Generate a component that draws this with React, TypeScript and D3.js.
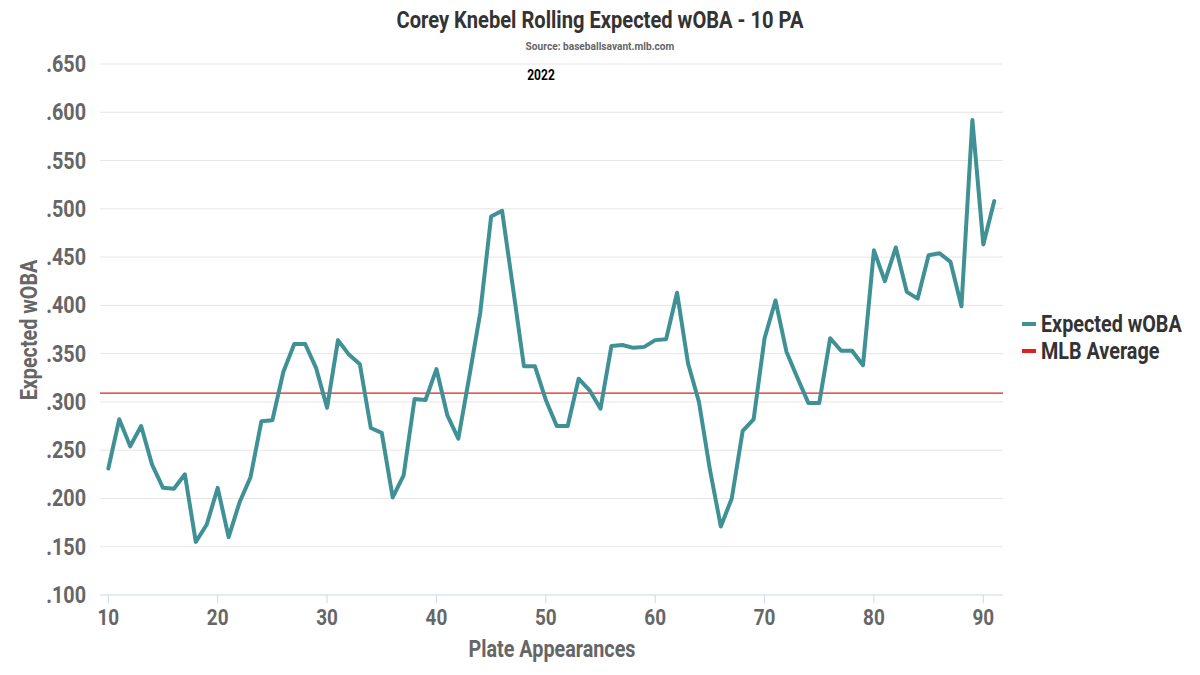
import React, { useEffect, useRef } from 'react';
import * as d3 from 'd3';

// rolling xwOBA over 10 PA, plate appearances 10..91
const plateAppearances = d3.range(10, 92);
const xwoba = [
  0.231, 0.282, 0.254, 0.275, 0.235, 0.211, 0.210, 0.225, 0.155, 0.173,
  0.211, 0.160, 0.196, 0.222, 0.280, 0.281, 0.331, 0.360, 0.360, 0.335,
  0.294, 0.364, 0.349, 0.339, 0.273, 0.268, 0.201, 0.224, 0.303, 0.302,
  0.334, 0.286, 0.262, 0.326, 0.392, 0.492, 0.498, 0.418, 0.337, 0.337,
  0.302, 0.275, 0.275, 0.324, 0.312, 0.293, 0.358, 0.359, 0.356, 0.357,
  0.364, 0.365, 0.413, 0.340, 0.300, 0.230, 0.171, 0.200, 0.270, 0.282,
  0.366, 0.405, 0.352, 0.325, 0.299, 0.299, 0.366, 0.353, 0.353, 0.338,
  0.457, 0.425, 0.460, 0.414, 0.407, 0.452, 0.454, 0.445, 0.399, 0.592,
  0.463, 0.508,
];
const mlbAverage = 0.309;
const yTicks = [0.1, 0.15, 0.2, 0.25, 0.3, 0.35, 0.4, 0.45, 0.5, 0.55, 0.6, 0.65];
const xTicks = [10, 20, 30, 40, 50, 60, 70, 80, 90];
const legendItems = [
  { label: 'Expected wOBA', color: '#3f9196' },
  { label: 'MLB Average', color: '#e0201c' },
];

const W = 1200;
const H = 675;
const FONT = 'Roboto, "Liberation Sans", sans-serif';
const SQ = 0.86; // squeeze to mimic a condensed face

const App: React.FC = () => {
  const svgRef = useRef<SVGSVGElement>(null);

  useEffect(() => {
    const svg = d3.select(svgRef.current);
    svg.selectAll('*').remove();

    const left = 100, right = 1003, top = 64, bottom = 595;

    const x = d3.scaleLinear().domain([9.24, 91.8]).range([left, right]);
    const y = d3.scaleLinear().domain([0.1, 0.65]).range([bottom, top]);

    const txt = (
      tx: number, ty: number, s: string, size: number, color: string,
      anchor = 'middle', rotate = 0
    ) =>
      svg.append('text')
        .attr('transform', `translate(${tx},${ty}) rotate(${rotate}) scale(${SQ},1)`)
        .attr('text-anchor', anchor)
        .attr('font-family', FONT)
        .attr('font-weight', 'bold')
        .attr('font-size', size)
        .attr('fill', color)
        .text(s);

    // grid
    svg.append('g')
      .selectAll('line')
      .data(yTicks.slice(1))
      .enter()
      .append('line')
      .attr('x1', left).attr('x2', right)
      .attr('y1', d => y(d)).attr('y2', d => y(d))
      .attr('stroke', '#e6e6e6')
      .attr('stroke-width', 1);

    // x axis line + ticks
    svg.append('line')
      .attr('x1', left).attr('x2', right)
      .attr('y1', bottom).attr('y2', bottom)
      .attr('stroke', '#ccd6eb');
    svg.append('g')
      .selectAll('line')
      .data(xTicks)
      .enter()
      .append('line')
      .attr('x1', d => x(d)).attr('x2', d => x(d))
      .attr('y1', bottom).attr('y2', bottom + 8)
      .attr('stroke', '#ccd6eb');

    yTicks.forEach(t => txt(86, y(t) + 8, d3.format('.3f')(t).replace(/^0/, ''), 23, '#666666', 'end'));
    xTicks.forEach(t => txt(x(t), 625, String(t), 22, '#666666'));

    // mlb average
    svg.append('line')
      .attr('x1', left).attr('x2', right)
      .attr('y1', y(mlbAverage)).attr('y2', y(mlbAverage))
      .attr('stroke', legendItems[1].color)
      .attr('stroke-width', 1.2);

    const line = d3.line<number>()
      .x((_, i) => x(plateAppearances[i]))
      .y(d => y(d));

    svg.append('path')
      .datum(xwoba)
      .attr('d', line)
      .attr('fill', 'none')
      .attr('stroke', legendItems[0].color)
      .attr('stroke-width', 4)
      .attr('stroke-linejoin', 'round')
      .attr('stroke-linecap', 'round');

    // titles
    txt(600, 28, 'Corey Knebel Rolling Expected wOBA - 10 PA', 23.4, '#333333');
    txt(600, 50, 'Source: baseballsavant.mlb.com', 11.8, '#666666');
    txt(541, 80, '2022', 14, '#000000');
    txt(552, 657, 'Plate Appearances', 23, '#666666');
    txt(37, 330, 'Expected wOBA', 23, '#666666', 'middle', -90);

    // legend
    legendItems.forEach((d, i) => {
      const ly = 324 + i * 27;
      svg.append('line')
        .attr('x1', 1022).attr('x2', 1036)
        .attr('y1', ly).attr('y2', ly)
        .attr('stroke', d.color)
        .attr('stroke-width', 4);
      txt(1041, ly + 8, d.label, 23, '#333333', 'start');
    });
  }, []);

  return (
    <svg ref={svgRef} width={W} height={H} style={{ position: 'absolute', left: 0, top: 0, background: '#fff' }} />
  );
};

export default App;
